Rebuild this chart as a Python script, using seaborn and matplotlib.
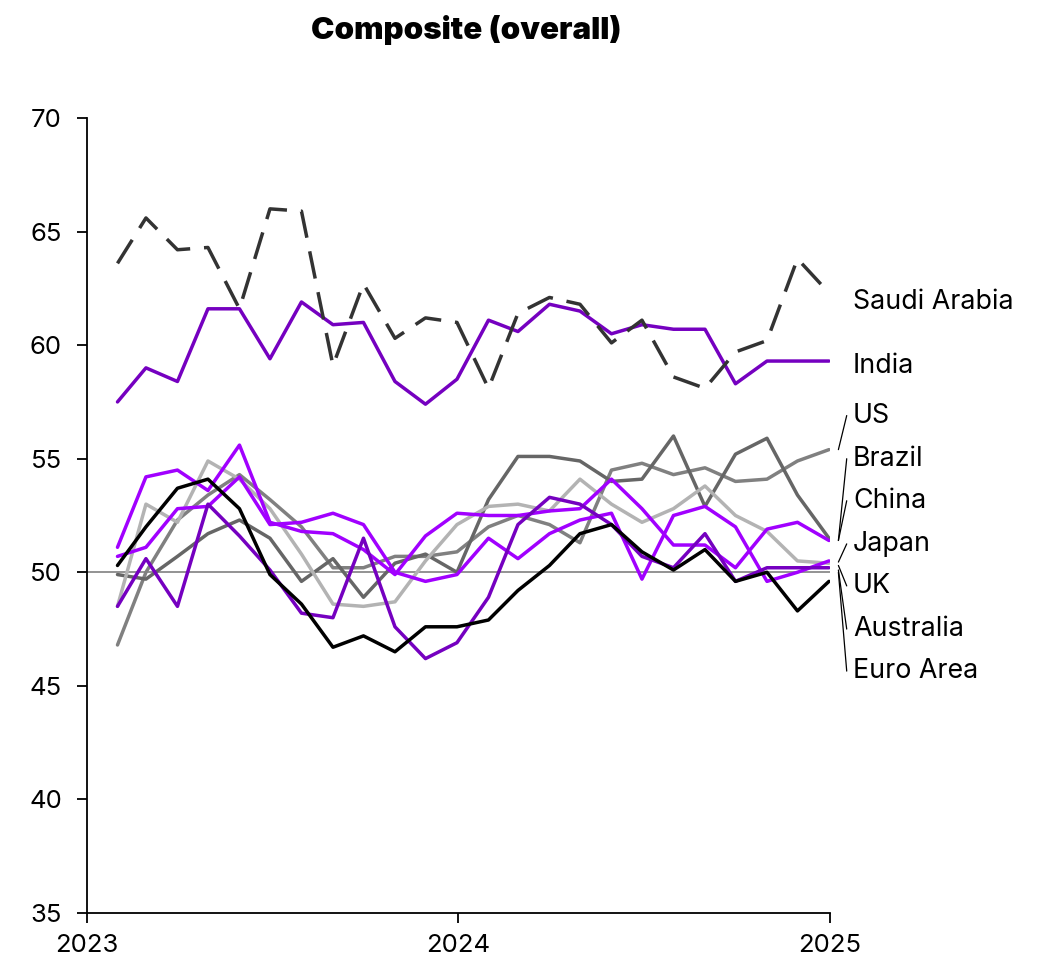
import seaborn as sns
import matplotlib.pyplot as plt
import matplotlib.dates as mdates
import pandas as pd

# Monthly composite PMI, Jan 2023 - Dec 2024 (plotted at month end)
dates = pd.date_range("2023-01-31", periods=24, freq="ME")

saudi_arabia = [63.6, 65.6, 64.2, 64.3, 61.6, 66.0, 65.9, 59.1, 62.7, 60.3, 61.2, 61.0,
                58.1, 61.4, 62.1, 61.8, 60.1, 61.1, 58.6, 58.1, 59.7, 60.2, 63.8, 62.3]
india = [57.5, 59.0, 58.4, 61.6, 61.6, 59.4, 61.9, 60.9, 61.0, 58.4, 57.4, 58.5,
         61.1, 60.6, 61.8, 61.5, 60.5, 60.9, 60.7, 60.7, 58.3, 59.3, 59.3, 59.3]
us = [46.8, 50.0, 52.3, 53.4, 54.3, 53.2, 52.0, 50.2, 50.2, 50.7, 50.7, 50.9,
      52.0, 52.5, 52.1, 51.3, 54.5, 54.8, 54.3, 54.6, 54.0, 54.1, 54.9, 55.4]
brazil = [49.9, 49.7, 50.7, 51.7, 52.3, 51.5, 49.6, 50.6, 48.9, 50.4, 50.8, 50.0,
          53.2, 55.1, 55.1, 54.9, 54.0, 54.1, 56.0, 52.9, 55.2, 55.9, 53.4, 51.5]
china = [51.1, 54.2, 54.5, 53.6, 55.6, 52.2, 51.8, 51.7, 51.0, 49.9, 51.6, 52.6,
         52.5, 52.5, 52.7, 52.8, 54.1, 52.8, 51.2, 51.2, 50.2, 51.9, 52.2, 51.4]
japan = [50.7, 51.1, 52.8, 52.9, 54.2, 52.1, 52.2, 52.6, 52.1, 50.0, 49.6, 49.9,
         51.5, 50.6, 51.7, 52.3, 52.6, 49.7, 52.5, 52.9, 52.0, 49.6, 50.0, 50.5]
uk = [48.5, 53.0, 52.2, 54.9, 54.1, 52.8, 50.8, 48.6, 48.5, 48.7, 50.5, 52.1,
      52.9, 53.0, 52.7, 54.1, 53.0, 52.2, 52.8, 53.8, 52.5, 51.8, 50.5, 50.4]
australia = [48.5, 50.6, 48.5, 53.0, 51.6, 50.1, 48.2, 48.0, 51.5, 47.6, 46.2, 46.9,
             48.9, 52.1, 53.3, 53.0, 52.1, 50.7, 50.2, 51.7, 49.6, 50.2, 50.2, 50.2]
euro_area = [50.3, 52.0, 53.7, 54.1, 52.8, 49.9, 48.6, 46.7, 47.2, 46.5, 47.6, 47.6,
             47.9, 49.2, 50.3, 51.7, 52.1, 50.9, 50.1, 51.0, 49.6, 50.0, 48.3, 49.6]

series = {
    "US": (us, "#808080", "-"),
    "Brazil": (brazil, "#666666", "-"),
    "UK": (uk, "#b3b3b3", "-"),
    "Japan": (japan, "#a100ff", "-"),
    "China": (china, "#a100ff", "-"),
    "Australia": (australia, "#7500c0", "-"),
    "Euro Area": (euro_area, "#000000", "-"),
    "India": (india, "#7500c0", "-"),
    "Saudi Arabia": (saudi_arabia, "#333333", (0, (8, 4))),
}

# right-hand labels: (label y, leader anchor y or None)
labels = {
    "Saudi Arabia": (61.9, None),
    "India": (59.1, None),
    "US": (56.9, 55.4),
    "Brazil": (55.0, 51.4),
    "China": (53.15, 51.4),
    "Japan": (51.25, 50.45),
    "UK": (49.4, 50.3),
    "Australia": (47.5, 50.1),
    "Euro Area": (45.65, 50.0),
}

sns.set_style("ticks")
plt.rcParams["font.family"] = ["Inter", "DejaVu Sans"]
plt.rcParams["text.color"] = "black"

fig = plt.figure(figsize=(10.38, 9.73), dpi=100)
ax = fig.add_axes([87 / 1038, 1 - 913 / 973, 743 / 1038, 795 / 973])

ax.axhline(50, color="#808080", lw=1.2, zorder=1)

for name, (vals, col, ls) in series.items():
    sns.lineplot(x=dates, y=vals, color=col, linestyle=ls, linewidth=2.5, ax=ax, zorder=3)

ax.set_ylim(35, 70)
ax.set_yticks(range(35, 71, 5))
ax.set_xlim(pd.Timestamp("2023-01-01"), pd.Timestamp("2025-01-01"))
ax.set_xticks([pd.Timestamp("2023-01-01"), pd.Timestamp("2024-01-01"), pd.Timestamp("2025-01-01")])
ax.xaxis.set_major_formatter(mdates.DateFormatter("%Y"))
ax.set_xlabel("")
ax.set_ylabel("")

for s in ["top", "right"]:
    ax.spines[s].set_visible(False)
for s in ["left", "bottom"]:
    ax.spines[s].set_color("black")
    ax.spines[s].set_linewidth(1.3)
ax.tick_params(axis="both", direction="out", length=7, width=1.3, color="black",
               labelsize=18.5, pad=11, labelcolor="black")
ax.tick_params(axis="x", pad=8)

trans = ax.get_yaxis_transform()
for name, (ly, anchor) in labels.items():
    ax.text(1.031, ly, name, transform=trans, fontsize=19.3, va="center", ha="left",
            color="black", clip_on=False)
    if anchor is not None:
        ax.plot([1.0113, 1.0225], [anchor, ly], transform=trans, color="black",
                lw=0.9, clip_on=False)

fig.text(466 / 1038, 1 - 30 / 973, "Composite (overall)", fontsize=22.5,
         fontweight="black", color="black", ha="center", va="center")

fig.savefig("out.png", dpi=100)
